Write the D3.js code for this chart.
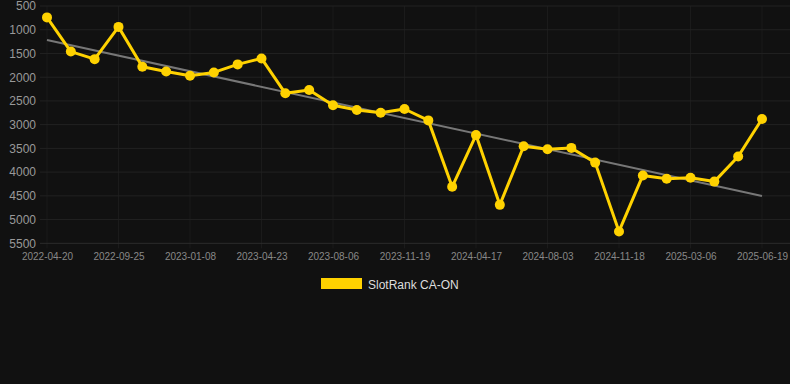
<!DOCTYPE html>
<html><head><meta charset="utf-8">
<script src="https://cdn.jsdelivr.net/npm/d3@7"></script>
<style>html,body{margin:0;padding:0;background:#111111;}svg{display:block;}</style>
</head><body><svg id="c" width="790" height="384"></svg>
<script>
const dates = ["2022-04-20","2022-06-12","2022-08-03","2022-09-25","2022-10-30","2022-12-04","2023-01-08","2023-02-12","2023-03-19","2023-04-23","2023-05-28","2023-07-02","2023-08-06","2023-09-10","2023-10-15","2023-11-19","2023-12-24","2024-02-20","2024-04-17","2024-05-22","2024-06-26","2024-08-03","2024-09-07","2024-10-12","2024-11-18","2024-12-23","2025-01-27","2025-03-06","2025-04-10","2025-05-15","2025-06-19"];
const ranks = [740,1460,1620,940,1780,1880,1970,1900,1730,1605,2340,2270,2590,2690,2750,2670,2910,4310,3220,4690,3455,3520,3490,3800,5250,4070,4140,4120,4200,3670,2880];
const yTicks = [500,1000,1500,2000,2500,3000,3500,4000,4500,5000,5500];
const xTickLabels = ["2022-04-20","2022-09-25","2023-01-08","2023-04-23","2023-08-06","2023-11-19","2024-04-17","2024-08-03","2024-11-18","2025-03-06","2025-06-19"];
const seriesName = "SlotRank CA-ON";

(function () {
const svg = d3.select("#c");
const plotL = 40, plotR = 790, plotT = 6, plotB = 243.3;
const x = d3.scalePoint().domain(dates).range([47, 762]);
const y = d3.scaleLinear().domain([500, 5500]).range([plotT, plotB]);

// grid
svg.append("g").selectAll("line").data(xTickLabels).join("line")
  .attr("x1", d => x(d)).attr("x2", d => x(d))
  .attr("y1", plotT).attr("y2", plotB + 5)
  .attr("stroke", "#1b1b1b").attr("stroke-width", 1);
svg.append("g").selectAll("line").data(yTicks).join("line")
  .attr("x1", plotL).attr("x2", plotR)
  .attr("y1", d => y(d)).attr("y2", d => y(d))
  .attr("stroke", d => d === 5500 ? "#2c2c2c" : "#222").attr("stroke-width", 1);

// y axis labels
const yAxis = d3.axisLeft(y).tickValues(yTicks).tickSize(0).tickPadding(4).tickFormat(d3.format("d"));
const gy = svg.append("g").attr("transform", `translate(${plotL},0)`).call(yAxis);
gy.select(".domain").remove();
gy.selectAll("text").attr("fill", "#999").attr("font-size", 12).attr("font-family", "Liberation Sans, Arial, sans-serif");

// x axis labels
const xAxis = d3.axisBottom(x).tickValues(xTickLabels).tickSize(0).tickPadding(10);
const gx = svg.append("g").attr("transform", `translate(0,${plotB})`).call(xAxis);
gx.select(".domain").remove();
gx.selectAll("text").attr("fill", "#888").attr("font-size", 10).attr("font-family", "Liberation Sans, Arial, sans-serif");

// trend (linear regression)
const n = ranks.length;
const idx = d3.range(n);
const mx = d3.mean(idx), my = d3.mean(ranks);
const slope = d3.sum(idx, i => (i - mx) * (ranks[i] - my)) / d3.sum(idx, i => (i - mx) ** 2);
const icpt = my - slope * mx;
svg.append("line")
  .attr("x1", x(dates[0])).attr("y1", y(icpt))
  .attr("x2", x(dates[n - 1])).attr("y2", y(icpt + slope * (n - 1)))
  .attr("stroke", "#777").attr("stroke-width", 2);

// series
const data = dates.map((d, i) => ({d, v: ranks[i]}));
svg.append("path").datum(data)
  .attr("fill", "none").attr("stroke", "#FFD200").attr("stroke-width", 3).attr("stroke-linejoin", "round")
  .attr("d", d3.line().x(p => x(p.d)).y(p => y(p.v)));
svg.append("g").selectAll("circle").data(data).join("circle")
  .attr("cx", p => x(p.d)).attr("cy", p => y(p.v)).attr("r", 5).attr("fill", "#FFD200");

// legend
svg.append("rect").attr("x", 321).attr("y", 278).attr("width", 41).attr("height", 11).attr("fill", "#FFD200");
svg.append("text").attr("x", 368).attr("y", 288.5).text(seriesName)
  .attr("fill", "#ddd").attr("font-size", 12).attr("font-family", "Liberation Sans, Arial, sans-serif");
})();
</script></body></html>
